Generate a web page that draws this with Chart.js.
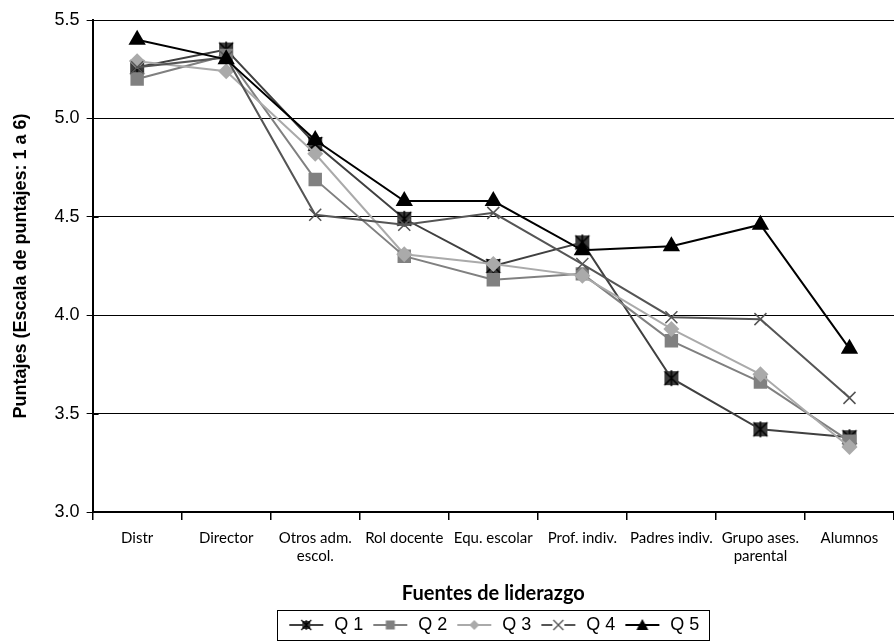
<!DOCTYPE html>
<html>
<head>
<meta charset="utf-8">
<script src="https://cdn.jsdelivr.net/npm/chart.js@4.4.1/dist/chart.umd.min.js"></script>
<style>
  html, body { margin: 0; padding: 0; background: #fff; overflow: hidden; }
  #wrap { width: 904px; height: 644px; }
</style>
</head>
<body>
<div id="wrap"><canvas id="mainChart"></canvas></div>
<script>
// --- data ---
const categories = ['Distr', 'Director', ['Otros adm.', 'escol.'], 'Rol docente', 'Equ. escolar',
    'Prof. indiv.', 'Padres indiv.', ['Grupo ases.', 'parental'], 'Alumnos'];
const seriesNames = ['Q 1', 'Q 2', 'Q 3', 'Q 4', 'Q 5'];
const q1 = [5.26, 5.35, 4.87, 4.49, 4.25, 4.37, 3.68, 3.42, 3.38];
const q2 = [5.20, 5.32, 4.69, 4.30, 4.18, 4.21, 3.87, 3.66, 3.36];
const q3 = [5.29, 5.24, 4.82, 4.31, 4.26, 4.20, 3.93, 3.70, 3.33];
const q4 = [5.26, 5.31, 4.51, 4.46, 4.52, 4.26, 3.99, 3.98, 3.58];
const q5 = [5.40, 5.30, 4.89, 4.58, 4.58, 4.33, 4.35, 4.46, 3.83];
const yTicks = [3.0, 3.5, 4.0, 4.5, 5.0, 5.5];

const SANS = '"Liberation Sans", Arial, sans-serif';
const HUMAN = 'Lato, sans-serif';

// --- marker images ---
function starBox(size) {
    const c = document.createElement('canvas');
    c.width = size; c.height = size;
    const g = c.getContext('2d');
    const m = size / 2, s = 7;
    g.fillStyle = '#3c3c3c';
    g.fillRect(m - s, m - s, 2 * s, 2 * s);
    g.strokeStyle = '#000';
    g.lineWidth = 1.5;
    g.beginPath();
    g.moveTo(m - 7, m - 7); g.lineTo(m + 7, m + 7);
    g.moveTo(m + 7, m - 7); g.lineTo(m - 7, m + 7);
    g.moveTo(m, m - 8); g.lineTo(m, m + 8);
    g.stroke();
    return c;
}

function legendIcon(color, drawMarker) {
    const c = document.createElement('canvas');
    c.width = 38; c.height = 16;
    const g = c.getContext('2d');
    g.strokeStyle = color;
    g.lineWidth = 2;
    g.beginPath(); g.moveTo(2, 8); g.lineTo(36, 8); g.stroke();
    drawMarker(g, 19, 8);
    return c;
}

const lineColors = ['#404040', '#808080', '#aaaaaa', '#555555', '#000000'];

const legendIcons = [
    legendIcon(lineColors[0], (g, x, y) => {
        g.fillStyle = '#3c3c3c'; g.fillRect(x - 4, y - 4, 8, 8);
        g.strokeStyle = '#000'; g.lineWidth = 1.2; g.beginPath();
        g.moveTo(x - 5, y - 5); g.lineTo(x + 5, y + 5);
        g.moveTo(x + 5, y - 5); g.lineTo(x - 5, y + 5);
        g.moveTo(x, y - 5); g.lineTo(x, y + 5); g.stroke();
    }),
    legendIcon(lineColors[1], (g, x, y) => { g.fillStyle = '#808080'; g.fillRect(x - 4.5, y - 4.5, 9, 9); }),
    legendIcon(lineColors[2], (g, x, y) => {
        g.fillStyle = '#aaaaaa'; g.beginPath();
        g.moveTo(x, y - 5); g.lineTo(x + 5, y); g.lineTo(x, y + 5); g.lineTo(x - 5, y); g.closePath(); g.fill();
    }),
    legendIcon(lineColors[3], (g, x, y) => {
        g.fillStyle = '#fff'; g.fillRect(x - 6, y - 6, 12, 12);
        g.strokeStyle = '#555555'; g.lineWidth = 1.4; g.beginPath();
        g.moveTo(x - 5, y - 5); g.lineTo(x + 5, y + 5);
        g.moveTo(x + 5, y - 5); g.lineTo(x - 5, y + 5); g.stroke();
    }),
    legendIcon(lineColors[4], (g, x, y) => {
        g.fillStyle = '#000'; g.beginPath();
        g.moveTo(x, y - 6); g.lineTo(x + 6, y + 5); g.lineTo(x - 6, y + 5); g.closePath(); g.fill();
    })
];

// border around legend + y ticks crossing the axis
const extras = {
    id: 'extras',
    afterDraw(chart) {
        const c = chart.ctx;
        c.save();
        c.strokeStyle = '#000';
        c.lineWidth = 1;
        const boxes = chart.legend.legendHitBoxes;
        if (boxes && boxes.length) {
            const left = Math.min(...boxes.map(b => b.left)) - 10;
            const right = Math.max(...boxes.map(b => b.left + b.width)) + 10;
            const top = boxes[0].top - 6;
            const bottom = boxes[0].top + boxes[0].height + 6;
            c.strokeRect(Math.round(left) + 0.5, Math.round(top) + 0.5, Math.round(right - left), Math.round(bottom - top));
        }
        const y = chart.scales.y, x0 = chart.chartArea.left;
        yTicks.forEach(v => {
            const py = Math.round(y.getPixelForValue(v)) + 0.5;
            c.beginPath(); c.moveTo(x0, py); c.lineTo(x0 + 6, py); c.stroke();
        });
        c.restore();
    }
};

const ds = (label, data, color, extra, order) => Object.assign({
    label, data,
    borderColor: color,
    backgroundColor: color,
    borderWidth: 2,
    pointBorderWidth: 1,
    pointRadius: 7,
    tension: 0,
    order
}, extra);

const ctx = document.getElementById('mainChart').getContext('2d');
const mainChart = new Chart(ctx, {
    type: 'line',
    data: {
        labels: categories,
        datasets: [
            ds(seriesNames[0], q1, lineColors[0], { pointStyle: starBox(18) }, 5),
            ds(seriesNames[1], q2, lineColors[1], { pointStyle: 'rect', pointRadius: 9.5, pointBorderWidth: 0 }, 4),
            ds(seriesNames[2], q3, lineColors[2], { pointStyle: 'rectRot', pointRadius: 8, pointBorderWidth: 0 }, 3),
            ds(seriesNames[3], q4, lineColors[3], { pointStyle: 'crossRot', pointRadius: 8.5, pointBorderWidth: 1.5 }, 2),
            ds(seriesNames[4], q5, lineColors[4], { pointStyle: 'triangle', pointRadius: 10, pointBorderWidth: 0 }, 1)
        ]
    },
    options: {
        responsive: true,
        maintainAspectRatio: false,
        animation: false,
        layout: { padding: { top: 20, left: 10, right: 2, bottom: 0 } },
        plugins: {
            tooltip: { enabled: false },
            legend: {
                position: 'bottom',
                fullSize: false,
                labels: {
                    usePointStyle: true,
                    pointStyleWidth: 38,
                    boxHeight: 16,
                    padding: 8,
                    color: '#000',
                    font: { family: SANS, size: 18 },
                    generateLabels: () => seriesNames.map((n, i) => ({
                        text: n, pointStyle: legendIcons[i], datasetIndex: i,
                        fillStyle: lineColors[i], strokeStyle: lineColors[i], lineWidth: 0, hidden: false
                    }))
                }
            }
        },
        scales: {
            x: {
                offset: true,
                grid: { offset: true, drawOnChartArea: false, drawTicks: true, tickLength: 8, color: '#000', lineWidth: 1.5 },
                border: { color: '#000', width: 2 },
                ticks: {
                    color: '#000', maxRotation: 0, autoSkip: false, padding: 9,
                    font: { family: HUMAN, size: 15, lineHeight: 1.2 }
                },
                title: {
                    display: true, text: 'Fuentes de liderazgo', color: '#000',
                    font: { family: HUMAN, size: 20, weight: 'bold' }, padding: { top: 8, bottom: 2 }
                }
            },
            y: {
                min: yTicks[0], max: yTicks[yTicks.length - 1],
                afterBuildTicks: axis => { axis.ticks = yTicks.map(v => ({ value: v })); },
                grid: { color: '#000', lineWidth: 1, tickLength: 6 },
                border: { color: '#000', width: 2 },
                ticks: {
                    color: '#000', padding: 7,
                    font: { family: SANS, size: 18 },
                    callback: v => Number(v).toFixed(1)
                },
                title: {
                    display: true, text: 'Puntajes (Escala de puntajes: 1 a 6)', color: '#000',
                    font: { family: SANS, size: 18, weight: 'bold' }, padding: { top: 0, bottom: 16 }
                }
            }
        }
    },
    plugins: [extras]
});
</script>
</body>
</html>
